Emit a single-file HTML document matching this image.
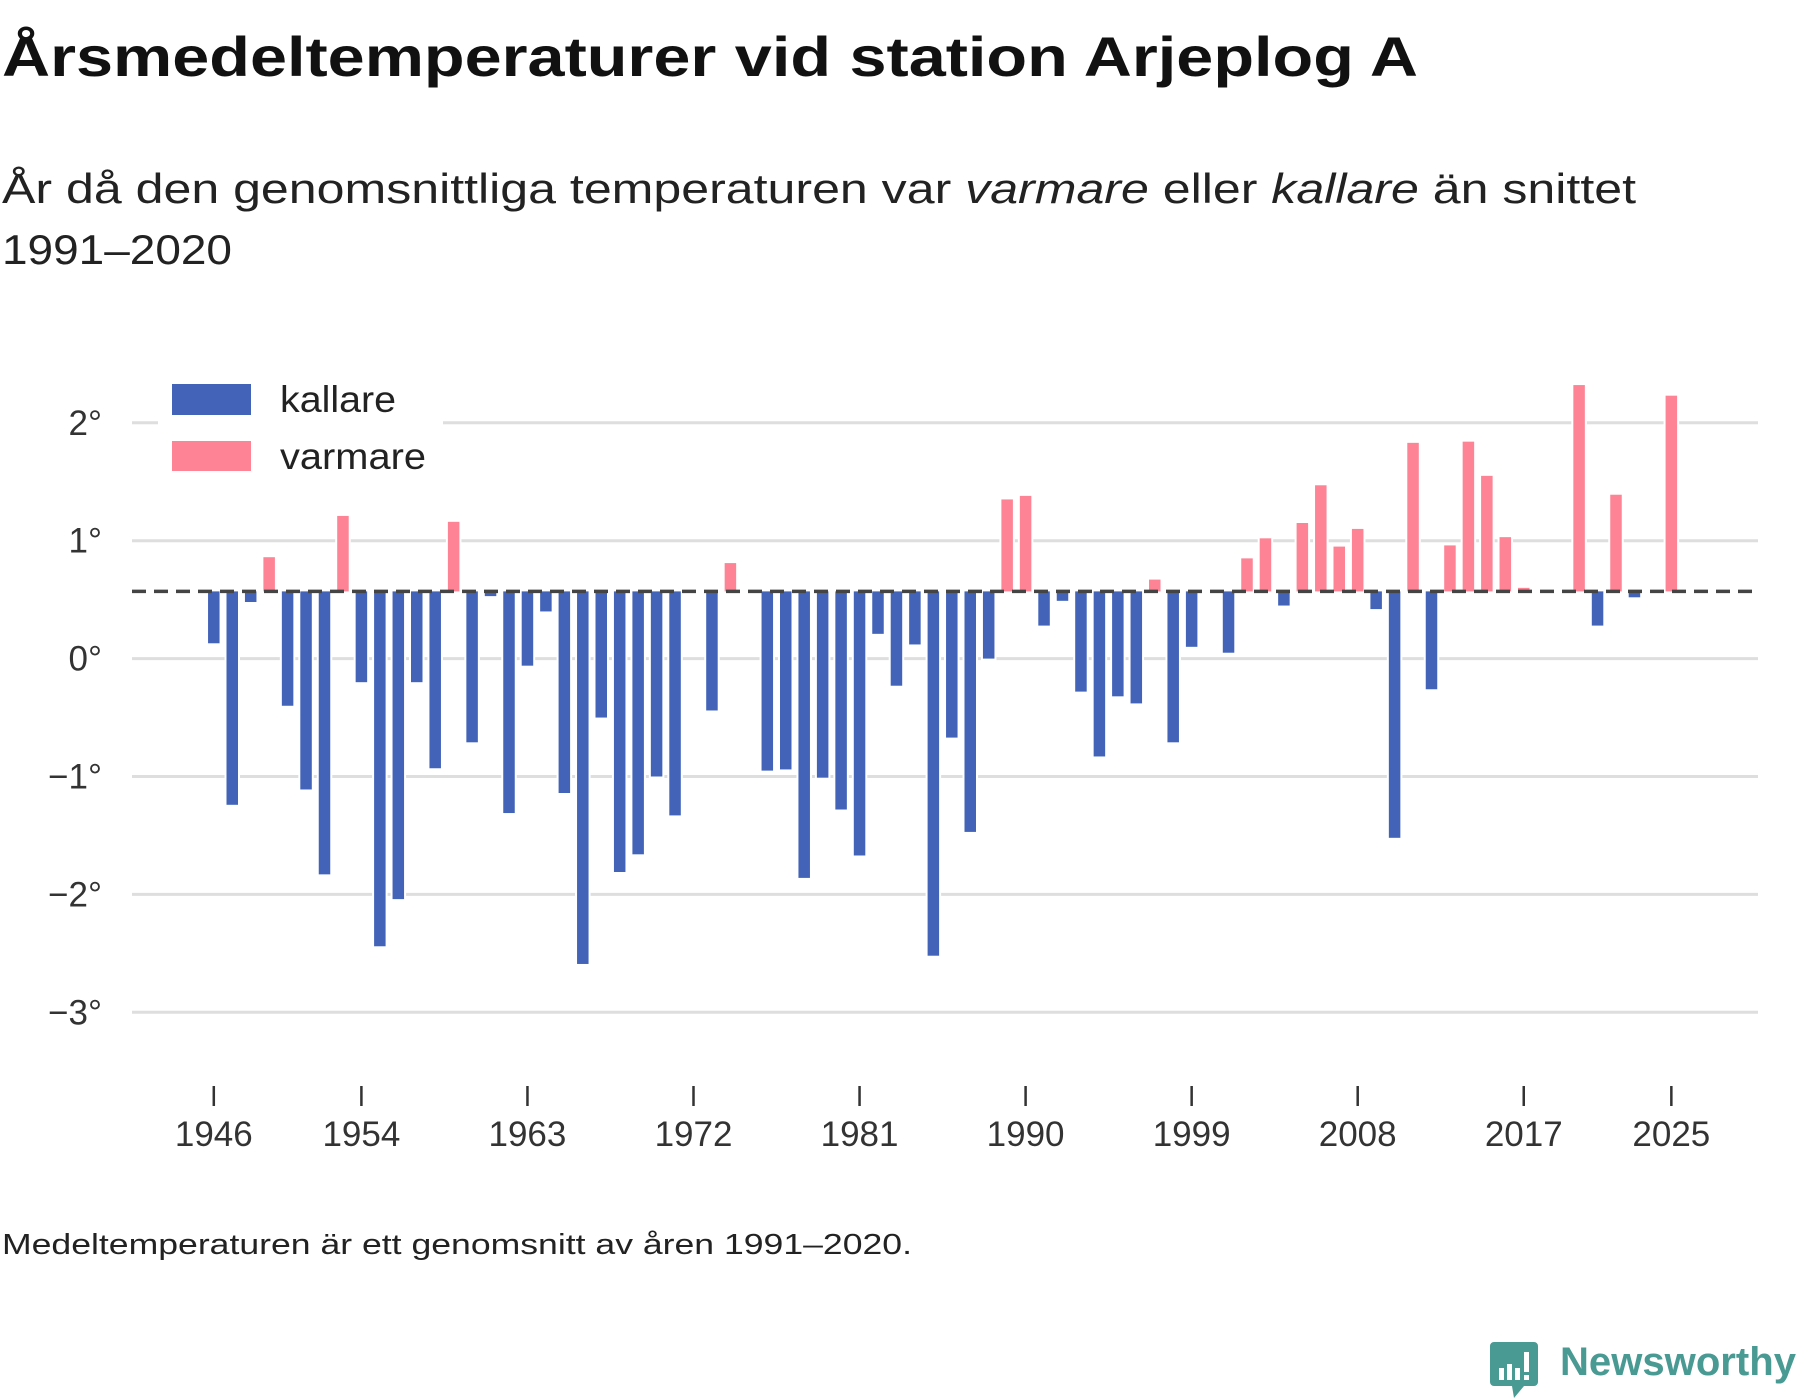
<!DOCTYPE html>
<html><head><meta charset="utf-8"><style>
html,body{margin:0;padding:0;background:#fff;}
svg{display:block;font-family:"Liberation Sans",sans-serif;}
</style></head><body>
<svg id="chart" width="1800" height="1400" viewBox="0 0 1800 1400">
<text x="2" y="76" font-size="56" font-weight="bold" fill="#111" textLength="1416" lengthAdjust="spacingAndGlyphs">Årsmedeltemperaturer vid station Arjeplog A</text>
<text x="2" y="203" font-size="42" fill="#222" textLength="1634" lengthAdjust="spacingAndGlyphs">År då den genomsnittliga temperaturen var <tspan font-style="italic">varmare</tspan> eller <tspan font-style="italic">kallare</tspan> än snittet</text>
<text x="2" y="264" font-size="42" fill="#222" textLength="230" lengthAdjust="spacingAndGlyphs">1991–2020</text>
<g id="grid"></g>
<g id="bars"></g>
<g id="baseline"></g>
<g id="legend">
<rect x="158" y="372" width="285" height="110" fill="#fff"/>
<rect x="172" y="384" width="79" height="31" fill="#4263b8"/>
<text x="280" y="412" font-size="37" fill="#222" textLength="116" lengthAdjust="spacingAndGlyphs">kallare</text>
<rect x="172" y="441" width="79" height="30" fill="#fe8394"/>
<text x="280" y="469" font-size="37" fill="#222" textLength="146" lengthAdjust="spacingAndGlyphs">varmare</text>
</g>
<g id="xaxis"></g>
<text x="2" y="1254" font-size="29" fill="#222" textLength="910" lengthAdjust="spacingAndGlyphs">Medeltemperaturen är ett genomsnitt av åren 1991–2020.</text>
<g>
<path d="M1494 1342 h40 a4 4 0 0 1 4 4 v36 a4 4 0 0 1 -4 4 h-10 l-10 12 l-2 -12 h-18 a4 4 0 0 1 -4 -4 v-36 a4 4 0 0 1 4 -4z" fill="#4a9a94"/>
<rect x="1499" y="1368" width="5" height="12" fill="#fff"/>
<rect x="1507" y="1364" width="5" height="16" fill="#fff"/>
<rect x="1515" y="1368" width="5" height="12" fill="#fff"/>
<rect x="1524" y="1352" width="5" height="20" fill="#fff"/>
<rect x="1524" y="1375" width="5" height="5" fill="#fff"/>
<text x="1560" y="1375" font-size="40" font-weight="bold" fill="#4a9a94" textLength="236" lengthAdjust="spacingAndGlyphs">Newsworthy</text>
</g>
</svg>
<script>
const years = [];
for (let y = 1946; y <= 2025; y++) years.push(y);
const temps = [
0.13,-1.24,0.48,0.86,-0.40,-1.11,-1.83,1.21,-0.20,-2.44,
-2.04,-0.20,-0.93,1.16,-0.71,0.53,-1.31,-0.06,0.40,-1.14,
-2.59,-0.50,-1.81,-1.66,-1.00,-1.33,0.57,-0.44,0.81,0.57,
-0.95,-0.94,-1.86,-1.01,-1.28,-1.67,0.21,-0.23,0.12,-2.52,
-0.67,-1.47,0.00,1.35,1.38,0.28,0.49,-0.28,-0.83,-0.32,
-0.38,0.67,-0.71,0.10,0.57,0.05,0.85,1.02,0.45,1.15,
1.47,0.95,1.10,0.42,-1.52,1.83,-0.26,0.96,1.84,1.55,
1.03,0.60,0.57,0.57,2.32,0.28,1.39,0.52,0.57,2.23];
const baselineValue = 0.57;
const yTicks = [2,1,0,-1,-2,-3];
const yTickLabels = ["2°","1°","0°","−1°","−2°","−3°"];
const xTicks = [1946,1954,1963,1972,1981,1990,1999,2008,2017,2025];

const NS = "http://www.w3.org/2000/svg";
function yScale(v){ return 658.6 - 117.9 * v; }
function xScale(yr){ return 213.8 + (yr - 1946) * 18.45; }
function mk(tag, attrs, parent){
  const e = document.createElementNS(NS, tag);
  for (const k in attrs) e.setAttribute(k, attrs[k]);
  parent.appendChild(e); return e;
}
const grid = document.getElementById('grid');
yTicks.forEach((t,i)=>{
  const l = mk('line',{x1:132,x2:1758,y1:yScale(t),y2:yScale(t),stroke:'#dedede','stroke-width':3},grid);
  
  
  const tx = mk('text',{x:102,y:yScale(t)+12,'font-size':35,fill:'#333','text-anchor':'end'},grid);
  tx.textContent = yTickLabels[i];
  
  
});
const bars = document.getElementById('bars');
const bw = 11.5;
years.forEach((yr,i)=>{
  const v = temps[i];
  if (Math.abs(v - baselineValue) < 0.005) return;
  const y0 = yScale(baselineValue), y1 = yScale(v);
  const r = mk('rect',{x:xScale(yr)-bw/2,y:Math.min(y0,y1),width:bw,height:Math.abs(y1-y0),
    fill: v > baselineValue ? '#fe8394' : '#4263b8', stroke:'#fff','stroke-width':4,'paint-order':'stroke'},bars);
  
  
});
const bl = document.getElementById('baseline');
const d = mk('line',{x1:132,x2:1758,y1:yScale(baselineValue),y2:yScale(baselineValue),stroke:'#444','stroke-width':3.5,'stroke-dasharray':'14 8'},bl);


const xa = document.getElementById('xaxis');
xTicks.forEach(yr=>{
  const t = mk('line',{x1:xScale(yr),x2:xScale(yr),y1:1086,y2:1106,stroke:'#333','stroke-width':2.5},xa);
  
  
  const tx = mk('text',{x:xScale(yr),y:1146,'font-size':35,fill:'#333','text-anchor':'middle'},xa);
  tx.textContent = yr;
  
  
});
</script>
</body></html>
